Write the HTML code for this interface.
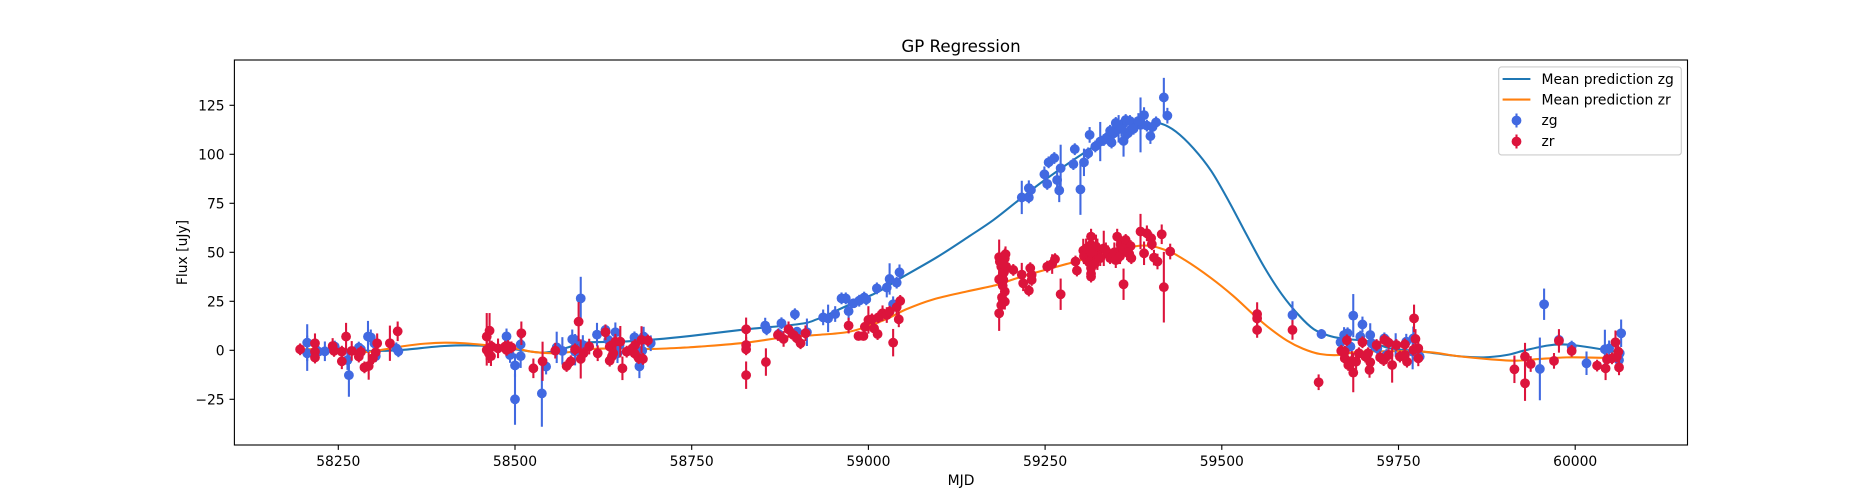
<!DOCTYPE html>
<html lang="en">
<head>
<meta charset="utf-8">
<title>GP Regression</title>
<style>
html,body{margin:0;padding:0;background:#fff;width:1875px;height:500px;overflow:hidden}
svg{display:block}
text{font-family:"DejaVu Sans",sans-serif;fill:#000}
</style>
</head>
<body>
<svg id="chart" xmlns="http://www.w3.org/2000/svg" width="1875" height="500" viewBox="0 0 1875 500">
  <rect x="0" y="0" width="1875" height="500" fill="#fff"/>
  <rect x="234.4" y="60" width="1453.1" height="385" fill="#fff"/>
  <g id="curves"></g>
  <g id="zg-points"></g>
  <g id="zr-points"></g>
  <rect x="234.4" y="60" width="1453.1" height="385" fill="none" stroke="#000" stroke-width="1.11"/>
  <g id="x-axis"></g>
  <g id="y-axis"></g>
  <text x="961" y="52" font-size="16.67" text-anchor="middle">GP Regression</text>
  <text x="961" y="485" font-size="13.89" text-anchor="middle">MJD</text>
  <text x="0" y="0" font-size="13.89" text-anchor="middle" transform="translate(187 252.5) rotate(-90)">Flux [uJy]</text>
  <g>
    <rect x="1498.7" y="66.9" width="182.6" height="88" rx="2.8" ry="2.8" fill="#fff" fill-opacity="0.8" stroke="#ccc" stroke-width="1.11"/>
    <line x1="1502.6" x2="1530.4" y1="79" y2="79" stroke="#1f77b4" stroke-width="2.08"/>
    <text x="1541.5" y="84" font-size="13.89">Mean prediction zg</text>
    <line x1="1502.6" x2="1530.4" y1="99.6" y2="99.6" stroke="#ff7f0e" stroke-width="2.08"/>
    <text x="1541.5" y="104.6" font-size="13.89">Mean prediction zr</text>
    <line x1="1516.5" x2="1516.5" y1="113.5" y2="127.5" stroke="#4169e1" stroke-width="2.08"/>
    <circle cx="1516.5" cy="120.5" r="4.9" fill="#4169e1"/>
    <text x="1541.5" y="125.2" font-size="13.89">zg</text>
    <line x1="1516.5" x2="1516.5" y1="134.5" y2="148.5" stroke="#dc143c" stroke-width="2.08"/>
    <circle cx="1516.5" cy="141.5" r="4.9" fill="#dc143c"/>
    <text x="1541.5" y="146" font-size="13.89">zr</text>
  </g>
</svg>
<script>
const xTickValues = [58250, 58500, 58750, 59000, 59250, 59500, 59750, 60000];
const yTickValues = [-25, 0, 25, 50, 75, 100, 125];

const zgCurveMjd = [58205,58250,58300,58340,58400,58450,58500,58540,58570,58600,58650,58700,58750,58827,58900,58927,58969,59012,59045,59097,59144,59177,59214,59248,59304,59348,59398,59413,59435,59460,59485,59510,59535,59560,59585,59610,59630,59650,59670,59710,59738,59785,59832,59870,59903,59927,59960,59983,60007,60042,60065];
const zgCurveFlux = [0,0.5,-0.3,0.2,2.2,2.4,0.5,-1.2,1,3.9,4.4,5.6,7.4,10.7,13.3,15.8,22.6,29.5,36.7,47.5,58.5,66.5,77,86.5,100.5,110,115.3,115.8,111.6,103,91.5,76,59,42.5,28.5,17.5,10.8,7.6,6,4.4,1,-0.7,-2.9,-3.6,-2.4,-0.2,2.4,3,2.2,0.2,-1.5];

const zrCurveMjd = [58196,58225,58283,58316,58344,58373,58401,58429,58457,58500,58523,58552,58575,58599,58646,58693,58740,58762,58827,58880,58927,58969,58997,59026,59054,59092,59139,59181,59205,59233,59280,59328,59385,59420,59448,59485,59516,59544,59565,59592,59615,59639,59667,59698,59785,59832,59880,59917,59950,59988,60021,60061];
const zrCurveFlux = [0.5,0.5,-1,0.5,2.2,3.4,3.9,3.6,2.7,1,-0.7,-1.5,-1,0.5,1,0.7,1.4,1.9,3.9,6.6,7.8,9.2,12,16,21,26,30,33.3,36.2,39.3,44,48.6,53.4,51.2,46,36.8,27.8,18.5,12,5,0.8,-1.9,-2.4,-0.7,-0.7,-2.9,-4.6,-5.3,-4.4,-3.6,-3.7,-4.1];

const zgMjd = [58206,58206,58231,58245,58222,58265,58263,58279,58282,58292,58296,58301,58303,58332,58335,58488,58500,58500,58493,58508,58508,58538,58544,58559,58567,58581,58585,58593,58596,58585,58616,58628,58632,58642,58648,58669,58682,58680,58676,58692,58645,
58854,58856,58877,58873,58896,58899,58913,58936,58943,58953,58962,58968,58972,58979,58987,58994,58997,59012,59026,59030,59040,59044,59035,
59217,59227,59227,59230,59249,59253,59255,59263,59267,59270,59272,59290,59292,59300,59305,59311,59313,59321,59328,59333,59339,59344,59347,59354,59361,59364,59367,59371,59378,59385,59390,59394,59399,59407,59418,59423,59361,59351,
59600,59641,59668,59673,59678,59682,59686,59699,59696,59710,59712,59720,59730,59733,59746,59761,59770,59771,59780,59950,59956,59977,59995,60016,60042,60048,60063,60062,60065,
59342,59350,59358,59370,59375,59382,59402];
const zgFlux = [3.9,-1.5,-0.5,1.9,-0.7,-12.7,-5,1.4,0.5,7,6.6,3.6,-3,1,-0.5,7.1,-7.7,-25,-2.4,3,-3,-22,-8.3,1.5,-0.3,5.6,5.3,26.5,2.7,-0.7,8,10.4,5.3,9.2,2.7,6.6,7,-0.2,-8.2,3.6,-1.5,
12.6,10.7,13.8,8.3,18.4,9.5,9.2,16.8,16.3,18.5,26.5,26.5,20,24,25.3,26.9,26,31.6,32,36.4,34.5,39.8,23.5,
78,78,82.7,81.8,89.8,84.9,95.9,98.1,86.9,81.6,92.9,95,102.6,82.1,95.9,100.5,109.9,104,106.5,107.3,109,106,110.7,113,106.8,117.5,110.7,112.4,115.8,115,120,114.6,109.3,116.3,129,119.7,115.8,113.3,
18,8.3,4.1,7.8,8.7,1.9,17.7,13.2,7,7.8,3.6,1,6.1,-2.4,2.7,4.4,-0.7,6.1,-3.2,-9.5,23.5,5.3,1.9,-6.6,0.5,1,-1.5,-5,8.7,
112,116,113,117,113,117,114];
const zgErr = [9.4,9,5,3,3,11,5,3,3,8,4,3,3,3,3,4,6,13,4,6,6,17,4,8,7,5,3,11,5,7,6,2,3,5,5,3,5,5,6,4,5,
4,3,3,3,3,2,7,4,7,4,3,3,5,2,3,3,3,3,5,8,3,4,4,
8.5,3,4,3,4,3,3,3,4,6,12,3,3,13,7,3,4,3,10,3,3,3,3,7,8,3,3,3,3,14,4,3,4,3,10,4,3,3,
7,2.5,2,4,3,2.5,11,4,3,6,4,3,3,3,6,4,9,6,3,16,8,3,3,6,10,4,3,3,7,
3,3,4,3,3,4,3];

const zrMjd = [58196,58217,58217,58217,58242,58244,58255,58255,58261,58269,58279,58282,58287,58293,58299,58303,58305,58323,58334,
58460,58464,58460,58463,58466,58467,58476,58486,58490,58495,58488,58509,58526,58539,58557,58573,58579,58590,58585,58593,58597,58605,58617,58628,58634,58637,58634,58642,58649,58652,58639,58658,58666,58670,58669,58679,58688,58675,58681,
58827,58827,58827,58827,58855,58872,58880,58887,58894,58899,58904,58911,58972,58986,58993,58995,59000,59005,59008,59013,59014,59020,59026,59030,59035,59040,59045,59043,
59185,59185,59186,59185,59193,59188,59191,59191,59193,59193,59188,59195,59205,59217,59219,59227,59229,59231,59231,59253,59260,59264,59272,59293,59295,59304,59315,59315,59315,59315,59315,59311,59324,59333,59339,59345,59352,59353,59357,59361,59364,59369,59371,59354,59385,59394,59390,59400,59401,59404,59409,59415,59418,59427,
59550,59550,59550,59600,59637,59669,59674,59677,59674,59679,59686,59684,59690,59694,59699,59703,59707,59710,59709,59719,59724,59729,59730,59736,59736,59741,59747,59752,59759,59762,59759,59772,59774,59778,59771,59778,
59914,59929,59929,59937,59970,59977,59995,60031,60043,60045,60052,60057,60061,60059,60062,
59189,59190,59188,59192,59190,59194,59305,59308,59312,59318,59320,59322,59328,59336,59342,59348,59350,59356,59360,59366,59372,59315,59315];
const zrFlux = [0.5,3.6,-0.7,-3.7,2.2,-0.3,-0.7,-5.6,7,-0.3,-3.2,-0.8,-8.7,-8,-4,-1,3.6,3.6,9.7,
7,10,0.2,-1.5,-3,1.9,1,1.9,2.2,1.5,0.2,8.7,-9.2,-5.6,-0.2,-8,-5.6,14.6,0.5,-4.4,-1.5,1.9,-1.5,9.2,-5.3,-3.2,1.9,4.4,4.4,-9.2,-1.5,-0.7,1,2.7,-1.5,5.3,5,-4,-4.4,
10.7,2.7,0.5,-12.7,-6,7.8,5.8,10.7,7.8,6.1,3.6,8.7,12.6,7.3,7.3,12,15.5,15.8,11.2,8.3,16.8,18.9,18,19.7,3.9,22,25.2,15.8,
18.9,47.5,45.2,36.2,46.9,42.7,39.3,35.9,30,24.8,23,42.7,41,38.6,34.2,30.5,41.9,38.5,35.9,42.7,44,46.5,28.6,45.3,40.7,50.9,58,53.8,46,41.9,37.6,48.7,49,52,49.5,48.3,58,47,53.8,33.7,56.3,49.2,53.2,50.4,60.6,59.7,49.5,57.2,54.1,47.3,45.3,59.2,32.2,50.4,
18.5,16.3,10.4,10.4,-16.3,-0.3,-0.7,5.1,-4.1,-7.5,-11.4,-5.4,-5.8,-1.5,4.1,-3.2,-1.5,-6.1,-10,2.7,-3.6,-5,5.3,3.9,-2.4,-7.5,2.7,-3.2,3,-5.8,-2.4,16.3,5.8,1,0.2,-4.1,
-9.7,-16.8,-3.2,-7,-5.4,4.8,-0.3,-7.8,-9.2,-4.6,-4.1,4.1,-0.7,-3.2,-8.7,
27,33,37,40,44,49,48,52,45,50,44,53,47,51,47,50,46,48,52,50,47,39,50];
const zrErr = [3,5,4,3,4,3,3,4,7,5,3,3,3,7,3,3,5,9,5,
12,9,8,5,5,3,5,3,3,3,3,6,5,10,4,3,3,10,3,10,3,4,4,4,3,3,3,4,8,6,3,3,3,3,3,7,3,3,3,
6,4,3,7,7,3,4,4,3,3,3,4,4,2,2,2,7,3,3,3,3,4,4,3,7,4,3,4,
9,9,4,4,5,4,5,3,4,4,3,3,3,6,4,3,3,4,3,3,5,3,8,3,3,6,4,8,4,5,3,3,8,9,4,3,4,3,3,8,3,3,3,3,9,4,6,3,3,4,4,5,18,4,
6,3,4,5,4,3,3,3,3,3,10,5,4,3,3,3,3,3,4,3,3,3,3,3,3,9,3,3,3,3,3,7,5,4,3,4,
7,9,7,4,4,6,3,3,6,3,3,6,3,3,4,
4,4,3,5,3,4,4,5,3,4,3,6,4,4,3,5,4,4,5,4,3,4,4];

const SVG_NS = 'http://www.w3.org/2000/svg';
const xScale = function (mjd) { return 338.3 + (mjd - 58250) * 0.7068; };
const yScale = function (flux) { return 350.3 - flux * 1.96; };

function makeEl(tag, parent) {
  const el = document.createElementNS(SVG_NS, tag);
  parent.appendChild(el);
  return el;
}

function smoothPath(mjds, fluxes) {
  const px = mjds.map(xScale);
  const py = fluxes.map(yScale);
  let d = 'M' + px[0].toFixed(2) + ' ' + py[0].toFixed(2);
  for (let i = 0; i < px.length - 1; i++) {
    const p0 = Math.max(i - 1, 0);
    const p3 = Math.min(i + 2, px.length - 1);
    const c1x = px[i] + (px[i + 1] - px[p0]) / 6;
    const c1y = py[i] + (py[i + 1] - py[p0]) / 6;
    const c2x = px[i + 1] - (px[p3] - px[i]) / 6;
    const c2y = py[i + 1] - (py[p3] - py[i]) / 6;
    d += 'C' + c1x.toFixed(2) + ' ' + c1y.toFixed(2) + ' ' + c2x.toFixed(2) + ' ' + c2y.toFixed(2) + ' ' + px[i + 1].toFixed(2) + ' ' + py[i + 1].toFixed(2);
  }
  return d;
}

const curvesGroup = document.getElementById('curves');

const zgCurve = makeEl('path', curvesGroup);


zgCurve.setAttribute('d', smoothPath(zgCurveMjd, zgCurveFlux));
zgCurve.setAttribute('fill', 'none');
zgCurve.setAttribute('stroke', '#1f77b4');
zgCurve.setAttribute('stroke-width', '2.08');

const zrCurve = makeEl('path', curvesGroup);


zrCurve.setAttribute('d', smoothPath(zrCurveMjd, zrCurveFlux));
zrCurve.setAttribute('fill', 'none');
zrCurve.setAttribute('stroke', '#ff7f0e');
zrCurve.setAttribute('stroke-width', '2.08');

function drawPoints(groupId, mjds, fluxes, errs, color, errName, pointName) {
  const group = document.getElementById(groupId);
  for (let i = 0; i < mjds.length; i++) {
    const bar = makeEl('line', group);
    
    
    bar.setAttribute('x1', xScale(mjds[i]).toFixed(2));
    bar.setAttribute('x2', xScale(mjds[i]).toFixed(2));
    bar.setAttribute('y1', yScale(fluxes[i] + errs[i]).toFixed(2));
    bar.setAttribute('y2', yScale(fluxes[i] - errs[i]).toFixed(2));
    bar.setAttribute('stroke', color);
    bar.setAttribute('stroke-width', '2.08');
    const dot = makeEl('circle', group);
    
    
    dot.setAttribute('cx', xScale(mjds[i]).toFixed(2));
    dot.setAttribute('cy', yScale(fluxes[i]).toFixed(2));
    dot.setAttribute('r', '4.9');
    dot.setAttribute('fill', color);
  }
}
drawPoints('zg-points', zgMjd, zgFlux, zgErr, '#4169e1', 'zg-error-bar', 'zg-point');
drawPoints('zr-points', zrMjd, zrFlux, zrErr, '#dc143c', 'zr-error-bar', 'zr-point');

const xAxisGroup = document.getElementById('x-axis');
xTickValues.forEach(function (v) {
  const tick = makeEl('line', xAxisGroup);
  
  
  tick.setAttribute('x1', xScale(v).toFixed(2));
  tick.setAttribute('x2', xScale(v).toFixed(2));
  tick.setAttribute('y1', '445');
  tick.setAttribute('y2', '449.9');
  tick.setAttribute('stroke', '#000');
  tick.setAttribute('stroke-width', '1.11');
  const label = makeEl('text', xAxisGroup);
  
  
  label.setAttribute('x', xScale(v).toFixed(2));
  label.setAttribute('y', '466');
  label.setAttribute('font-size', '13.89');
  label.setAttribute('text-anchor', 'middle');
  label.textContent = String(v);
});

const yAxisGroup = document.getElementById('y-axis');
yTickValues.forEach(function (v) {
  const tick = makeEl('line', yAxisGroup);
  
  
  tick.setAttribute('x1', '229.5');
  tick.setAttribute('x2', '234.4');
  tick.setAttribute('y1', yScale(v).toFixed(2));
  tick.setAttribute('y2', yScale(v).toFixed(2));
  tick.setAttribute('stroke', '#000');
  tick.setAttribute('stroke-width', '1.11');
  const label = makeEl('text', yAxisGroup);
  
  
  label.setAttribute('x', '224.6');
  label.setAttribute('y', (yScale(v) + 5.2).toFixed(2));
  label.setAttribute('font-size', '13.89');
  label.setAttribute('text-anchor', 'end');
  label.textContent = v < 0 ? '\u2212' + Math.abs(v) : String(v);
});
</script>
</body>
</html>
